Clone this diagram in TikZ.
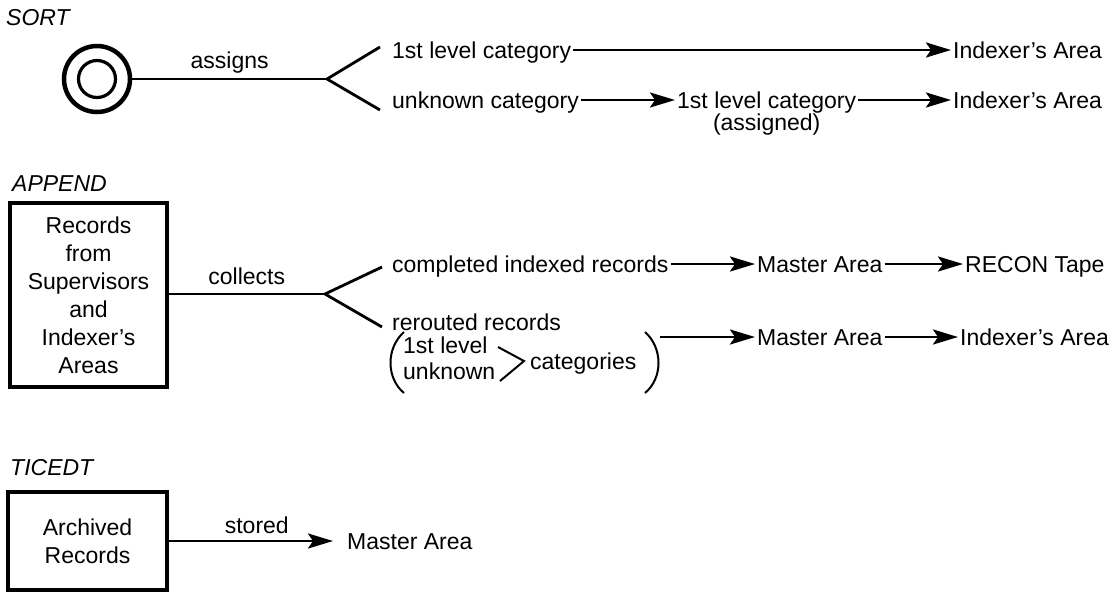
\documentclass[tikz,border=0pt]{standalone}
\usepackage{fontspec}
\setmainfont{Liberation Sans}
\usetikzlibrary{arrows.meta, positioning}
\tikzset{
	lbl/.style={inner xsep=2pt, inner ysep=0pt, text height=16.5pt, text depth=0pt,
		font=\fontsize{23}{27.6}\selectfont},
	ttl/.style={lbl, anchor=west, font=\fontsize{23}{27.6}\selectfont\itshape},
	flow/.style={line width=2.8pt, -{Stealth[length=25pt,width=15pt,inset=5pt]}},
	bar/.style={line width=2.8pt},
	paren/.style={line width=2pt},
	progbox/.style={draw, line width=3.2pt, align=center, inner sep=0pt,
		font=\fontsize{23}{28}\selectfont}
}

\begin{document}
\begin{tikzpicture}[x=1pt, y=-1pt]
	\useasboundingbox (0,0) rectangle (1113,595);

	% SORT
	\node[ttl] (sorttl) at (4,17) {SORT};
	\node[circle, draw, line width=4.5pt, minimum size=66pt, inner sep=0pt] (sortc) at (97,79) {};
	\node[circle, draw, line width=3.2pt, minimum size=37pt, inner sep=0pt] (sortin) at (97,79) {};
	\coordinate (fk1) at (327,79);
	\coordinate (up1) at (380,47);
	\coordinate (lo1) at (380,110);
	\draw[bar] (sortc) -- (fk1) node[lbl, midway, above=9pt] (asgn) {assigns};
	\draw[bar] (up1) -- (fk1) -- (lo1);
	\node[lbl, anchor=west] (cat1) at (390,50) {1st level category};
	\node[lbl, anchor=west] (idx1) at (951,50) {Indexer's Area};
	\draw[flow] (cat1) -- (idx1);
	\node[lbl, anchor=west] (unk) at (390,100) {unknown category};
	\node[lbl, anchor=west] (cat2) at (675,100) {1st level category};
	\node[lbl, below=5pt of cat2] (asg) {(assigned)};
	\node[lbl, anchor=west] (idx2) at (951,100) {Indexer's Area};
	\draw[flow] (unk) -- (cat2);
	\draw[flow] (cat2) -- (idx2);

	% APPEND
	\node[ttl] (apptl) at (10,183) {APPEND};
	\node[progbox, minimum width=157pt, minimum height=184pt] (appbox) at (88.5,295)
		{Records\\from\\Supervisors\\and\\Indexer's\\Areas};
	\coordinate (fk2) at (325,294);
	\coordinate (up2) at (382,267);
	\coordinate (lo2) at (382,327);
	\draw[bar] (appbox.east |- fk2) -- (fk2) node[lbl, midway, above=8pt] (coll) {collects};
	\draw[bar] (up2) -- (fk2) -- (lo2);
	\node[lbl, anchor=west] (comp) at (390,264) {completed indexed records};
	\node[lbl, anchor=west] (mst1) at (755,264) {Master Area};
	\node[lbl, anchor=west] (recon) at (963,264) {RECON Tape};
	\draw[flow] (comp) -- (mst1);
	\draw[flow] (mst1) -- (recon);
	\node[lbl, anchor=west] (rer) at (390,322) {rerouted records};
	\node[lbl, anchor=west] (lvl) at (401,345) {1st level};
	\node[lbl, anchor=west] (unkn) at (401,371) {unknown};
	\node[lbl, anchor=west] (cats) at (528,361) {categories};
	\draw[paren] (404,332) .. controls (386,348) and (386,378) .. (404,393);
	\draw[paren] (645,332) .. controls (663,348) and (663,378) .. (645,393);
	\draw[paren] (498,347) -- (524,361) -- (500,381);
	\coordinate (rp) at (660,337);
	\node[lbl, anchor=west] (mst2) at (755,337) {Master Area};
	\node[lbl, anchor=west] (idx3) at (958,337) {Indexer's Area};
	\draw[flow] (rp) -- (mst2);
	\draw[flow] (mst2) -- (idx3);

	% TICEDT
	\node[ttl] (ticetl) at (8,467) {TICEDT};
	\node[progbox, minimum width=159pt, minimum height=98pt] (arcbox) at (87.5,541)
		{Archived\\Records};
	\node[lbl, anchor=west] (mst3) at (345,541) {Master Area};
	\draw[flow, shorten >=12pt] (arcbox) -- (mst3) node[lbl, midway, above=6pt] (stor) {stored};
\end{tikzpicture}
\end{document}
